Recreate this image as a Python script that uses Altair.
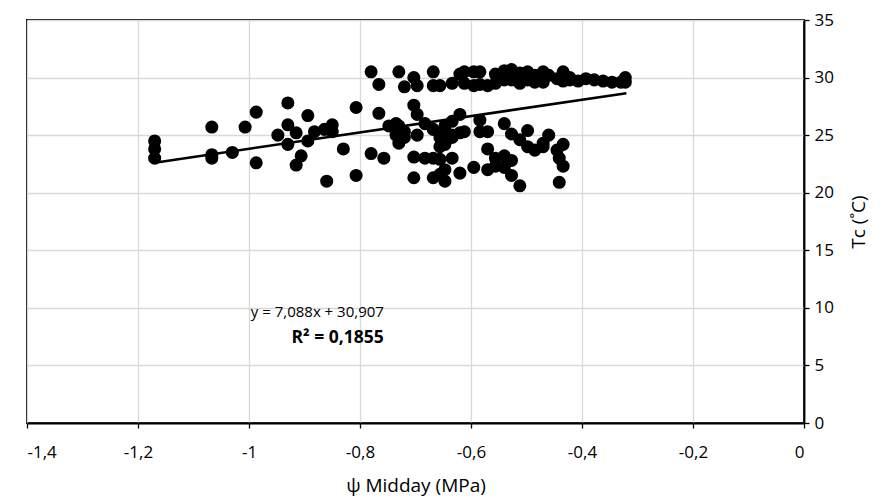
import altair as alt
import pandas as pd

# Scatter data: psi midday (MPa) vs canopy temperature Tc (°C)
psi = [
    -1.17, -1.17, -1.17,
    -1.067, -1.067, -1.067,
    -1.03, -1.007, -0.987, -0.987,
    -0.948, -0.93, -0.93, -0.93,
    -0.915, -0.915, -0.906,
    -0.894, -0.894, -0.882, -0.864,
    -0.85, -0.85, -0.86, -0.83,
    -0.807, -0.807, -0.78, -0.78,
    -0.766, -0.766, -0.757, -0.748,
    -0.735, -0.735, -0.73, -0.73, -0.73,
    -0.72, -0.72, -0.72,
    -0.703, -0.703, -0.703, -0.703,
    -0.697, -0.697, -0.697,
    -0.683, -0.683,
    -0.668, -0.668, -0.668, -0.668, -0.668,
    -0.656, -0.656, -0.656, -0.656, -0.656,
    -0.647, -0.647, -0.647, -0.647, -0.647,
    -0.634, -0.634, -0.634, -0.634, -0.634,
    -0.62, -0.62, -0.62, -0.62,
    -0.612, -0.612, -0.612,
    -0.595, -0.595, -0.595,
    -0.584, -0.584, -0.584, -0.584,
    -0.57, -0.57, -0.57, -0.57,
    -0.556, -0.556, -0.556, -0.556,
    -0.54, -0.54, -0.54, -0.54, -0.54,
    -0.527, -0.527, -0.527, -0.527, -0.527,
    -0.512, -0.512, -0.512, -0.512,
    -0.498, -0.498, -0.498, -0.498,
    -0.485, -0.485, -0.485,
    -0.47, -0.47, -0.47, -0.47,
    -0.46, -0.46,
    -0.445, -0.445,
    -0.441, -0.441,
    -0.434, -0.434, -0.434, -0.434,
    -0.422, -0.422,
    -0.407, -0.393, -0.378, -0.362, -0.346, -0.33,
    -0.322, -0.322,
]
tc = [
    24.5, 23.8, 23.0,
    25.7, 23.3, 23.0,
    23.5, 25.7, 27.0, 22.6,
    25.0, 27.8, 25.9, 24.2,
    25.2, 22.4, 23.2,
    26.7, 24.5, 25.3, 25.5,
    25.9, 25.3, 21.0, 23.8,
    27.4, 21.5, 30.5, 23.4,
    29.4, 26.9, 23.0, 25.8,
    26.0, 25.0, 30.5, 24.3, 25.8,
    29.2, 25.3, 24.8,
    30.0, 27.6, 23.1, 21.3,
    29.3, 26.8, 25.0,
    26.0, 23.0,
    30.5, 29.3, 25.5, 23.0, 21.3,
    29.3, 24.8, 24.0, 22.9, 21.6,
    25.8, 25.2, 24.2, 22.0, 21.0,
    29.5, 26.2, 25.0, 24.8, 23.0,
    30.3, 26.8, 25.2, 21.7,
    30.5, 29.5, 25.3,
    30.5, 29.3, 22.2,
    30.5, 29.4, 26.3, 25.3,
    29.3, 25.3, 23.8, 22.0,
    30.3, 29.5, 23.0, 22.3,
    30.6, 29.8, 26.0, 23.2, 22.2,
    30.7, 29.8, 25.1, 22.8, 21.5,
    30.4, 29.5, 24.6, 20.6,
    30.5, 29.8, 25.4, 24.0,
    30.2, 29.6, 23.7,
    30.5, 29.6, 24.3, 24.0,
    30.2, 25.0,
    29.9, 23.7,
    20.9, 23.0,
    30.5, 29.7, 22.3, 24.2,
    29.8, 30.0,
    29.7, 29.9, 29.8, 29.7, 29.6, 29.6,
    30.0, 29.6,
]

# Linear trend line endpoints (y = 7,088x + 30,907)
trend_x = [-1.17, -0.32]
trend_y = [22.61, 28.64]

# Annotation (right-aligned)
ann_x = [-0.757, -0.757]
ann_y = [9.64, 7.38]
ann_text = ["y = 7,088x + 30,907", "R² = 0,1855"]
ann_weight = ["normal", "bold"]

x_ticks = [-1.4, -1.2, -1.0, -0.8, -0.6, -0.4, -0.2, 0.0]
y_ticks = [0, 5, 10, 15, 20, 25, 30, 35]

FONT = "Open Sans"
label_expr = "replace(replace(format(datum.value, '.1~f'), '.', ','), '\u2212', '-')"

df = pd.DataFrame({"psi": psi, "tc": tc})
df_trend = pd.DataFrame({"psi": trend_x, "tc": trend_y})
df_ann = pd.DataFrame({"psi": ann_x, "tc": ann_y, "text": ann_text, "w": ann_weight})

xscale = alt.Scale(domain=[-1.4, 0], nice=False)
yscale = alt.Scale(domain=[0, 35], nice=False)

xaxis = alt.Axis(
    title="ψ Midday (MPa)", values=x_ticks, labelExpr=label_expr,
    grid=True, gridColor="#d9d9d9", gridWidth=1.3,
    domainColor="black", domainWidth=1.8, tickColor="black", tickSize=5, tickWidth=1.3,
    labelFont=FONT, labelFontSize=17, labelColor="black", labelPadding=16,
    titleFont=FONT, titleFontSize=19, titleFontWeight="normal", titleColor="black", titlePadding=16,
)
yaxis = alt.Axis(
    title="Tc (˚C)", orient="right", values=y_ticks,
    grid=True, gridColor="#d9d9d9", gridWidth=1.3,
    domainColor="black", domainWidth=1.8, tickColor="black", tickSize=5, tickWidth=1.3,
    labelFont=FONT, labelFontSize=17, labelColor="black", labelPadding=5,
    titleFont=FONT, titleFontSize=19, titleFontWeight="normal", titleColor="black",
    titlePadding=16, titleAngle=270, titleBaseline="top",
)

points = alt.Chart(df).mark_circle(size=170, color="black", opacity=1).encode(
    x=alt.X("psi:Q", scale=xscale, axis=xaxis),
    y=alt.Y("tc:Q", scale=yscale, axis=yaxis),
)

trend = alt.Chart(df_trend).mark_line(color="black", strokeWidth=2.6).encode(
    x=alt.X("psi:Q", scale=xscale),
    y=alt.Y("tc:Q", scale=yscale),
)

ann1 = alt.Chart(df_ann[df_ann.w == "normal"]).mark_text(
    font=FONT, fontSize=15, color="black", fontWeight="normal", align="right"
).encode(x="psi:Q", y="tc:Q", text="text:N")
ann2 = alt.Chart(df_ann[df_ann.w == "bold"]).mark_text(
    font=FONT, fontSize=17.5, color="black", fontWeight="bold", align="right"
).encode(x="psi:Q", y="tc:Q", text="text:N")

chart = (points + trend + ann1 + ann2).properties(
    width=777, height=403,
    autosize=alt.AutoSizeParams(type="none"),
    padding={"left": 27, "top": 20, "right": 80, "bottom": 79},
    background="white",
).configure_view(stroke="black", strokeWidth=1.8)

chart.save("out.html", embed_options={"renderer": "svg", "actions": False})
